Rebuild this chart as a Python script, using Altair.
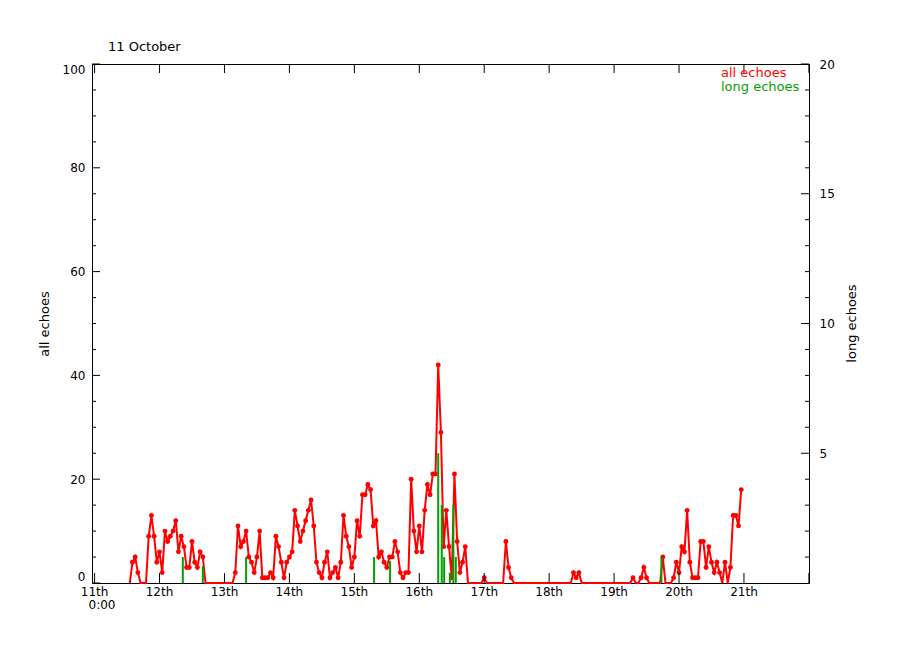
import altair as alt
import pandas as pd

# ---- data (hourly samples, hour 0 = 11 October 0:00) ----
day11 = [None, None, None, None, None, None, None, None, None, None, None, None, None,
         0, 4, 5, 2, 0, 0, 0, 9, 13, 9, 4]
day12 = [6, 2, 10, 8, 9, 10, 12, 6, 9, 7, 3, 3, 8, 4, 3, 6, 5, 0, 0, 0, 0, 0, 0, 0]
day13 = [0, 0, 0, 0, 2, 11, 7, 8, 10, 5, 4, 2, 5, 10, 1, 1, 1, 2, 1, 9, 7, 4, 1, 4]
day14 = [5, 6, 14, 11, 8, 10, 12, 14, 16, 11, 4, 2, 1, 4, 6, 1, 2, 3, 1, 4, 13, 9, 7, 3]
day15 = [5, 12, 9, 17, 17, 19, 18, 11, 12, 5, 6, 4, 3, 5, 5, 8, 6, 2, 1, 2, 2, 20, 10, 6]
day16 = [11, 6, 14, 19, 17, 21, 21, 42, 29, 7, 14, 7, 1, 21, 8, 2, 4, 7, 0, 0, 0, 0, 0, 0]
day17 = [1, 0, 0, 0, 0, 0, 0, 0, 8, 3, 1, 0, 0, 0, 0, 0, 0, 0, 0, 0, 0, 0, 0, 0]
day18 = [0, 0, 0, 0, 0, 0, 0, 0, 0, 2, 1, 2, 0, 0, 0, 0, 0, 0, 0, 0, 0, 0, 0, 0]
day19 = [0, 0, 0, 0, 0, 0, 0, 1, 0, 0, 1, 3, 1, 0, 0, 0, 0, 0, 5, 0, 0, 0, 1, 4]
day20 = [2, 7, 6, 14, 4, 1, 1, 1, 8, 8, 3, 7, 4, 2, 4, 2, 0, 4, 0, 3, 13, 13, 11, 18]

long_hours = [32.6, 40.0, 56.0, 103.3, 109.2, 127.0, 128.3, 129.2, 131.3, 132.6, 133.5, 209.5]
long_counts = [1, 0.65, 1, 1, 0.85, 5, 3, 1, 0.4, 3, 1, 1]

day_ticks = [0, 24, 48, 72, 96, 120, 144, 168, 192, 216, 240, 264]
day_label_values = [0, 24, 48, 72, 96, 120, 144, 168, 192, 216, 240]
day_labels = ["11th", "12th", "13th", "14th", "15th", "16th", "17th", "18th", "19th", "20th", "21th"]
left_major = [0, 20, 40, 60, 80, 100]
left_minor = [5, 10, 15, 25, 30, 35, 45, 50, 55, 65, 70, 75, 85, 90, 95]
right_major = [5, 10, 15, 20]
right_minor = [1, 2, 3, 4, 6, 7, 8, 9, 11, 12, 13, 14, 16, 17, 18, 19]

all_vals = day11 + day12 + day13 + day14 + day15 + day16 + day17 + day18 + day19 + day20
df_all = pd.DataFrame({"t": list(range(len(all_vals))), "v": all_vals}).dropna()
df_long = pd.DataFrame({"t": long_hours, "n": long_counts})

W, H = 717, 519
RED = "#ff0000"
GREEN = "#00a000"
FONT = "DejaVu Sans"
FS_NUM = 12
FS_TXT = 13

xscale = alt.Scale(domain=[-0.96, 264.04], nice=False, zero=False)
yscale = alt.Scale(domain=[0, 100], nice=False, zero=True)

yaxis_left = alt.Axis(values=left_major, orient="left", title="all echoes", labelPadding=7,
                      labelFontSize=FS_NUM, titleFontSize=FS_TXT, titlePadding=11, labelFlush=True)
yaxis_right = alt.Axis(values=[25, 50, 75, 100], orient="right", title=None,
                       labelExpr="format(datum.value/5, 'd')", labelPadding=10,
                       labelFontSize=FS_NUM, labelFlush=False)

base_all = alt.Chart(df_all)
red_line = base_all.mark_line(color=RED, strokeWidth=2).encode(
    x=alt.X("t:Q", scale=xscale, axis=None),
    y=alt.Y("v:Q", scale=yscale, axis=yaxis_left),
)
red_pts = base_all.transform_filter("datum.v > 0").mark_circle(color=RED, size=24, opacity=1).encode(
    x=alt.X("t:Q", scale=xscale, axis=None),
    y=alt.Y("v:Q", scale=yscale, axis=None),
)
green = alt.Chart(df_long).transform_calculate(yl="datum.n * 5").mark_rule(
    color=GREEN, strokeWidth=2).encode(
    x=alt.X("t:Q", scale=xscale, axis=None),
    y=alt.Y("yl:Q", scale=yscale, axis=yaxis_right),
    y2=alt.datum(0),
)

def ytick(values, factor, x0, x1):
    return alt.Chart(pd.DataFrame({"v": values})).transform_calculate(
        yy="datum.v * %s" % factor).mark_rule(color="black", strokeWidth=1).encode(
        y=alt.Y("yy:Q", scale=yscale, axis=None), x=alt.value(x0), x2=alt.value(x1))

lmaj = ytick(left_major, 1, 0, 8)
lmin = ytick(left_minor, 1, 0, 4)
rmaj = ytick(right_major, 5, W - 8, W)
rmin = ytick(right_minor, 5, W - 4, W)

df_days = pd.DataFrame({"t": day_ticks})
bticks = alt.Chart(df_days).mark_rule(color="black", strokeWidth=1).encode(
    x=alt.X("t:Q", scale=xscale, axis=None), y=alt.value(H), y2=alt.value(H - 10))
tticks = alt.Chart(df_days).mark_rule(color="black", strokeWidth=1).encode(
    x=alt.X("t:Q", scale=xscale, axis=None), y=alt.value(0), y2=alt.value(9))

xlabels = alt.Chart(pd.DataFrame({"t": day_label_values, "lab": day_labels})).mark_text(
    align="center", baseline="top", font=FONT, fontSize=FS_NUM, color="black").encode(
    x=alt.X("t:Q", scale=xscale, axis=None), y=alt.value(H + 4), text="lab:N")

def label(txt, x, y, color="black", align="left", angle=0, size=FS_TXT):
    return alt.Chart(pd.DataFrame({"s": [txt]})).mark_text(
        align=align, baseline="middle", font=FONT, fontSize=size, color=color,
        angle=angle).encode(text="s:N", x=alt.value(x), y=alt.value(y))

t_date = label("11 October", 16, -17)
t_all = label("all echoes", 629, 9, RED)
t_long = label("long echoes", 629, 23, GREEN)
t_zero = label("0:00", 10, 541, align="center", size=FS_NUM)
t_right = label("long echoes", W + 43, H / 2, align="center", angle=270)

chart = alt.layer(
    red_line, red_pts, green, lmaj, lmin, rmaj, rmin, bticks, tticks, xlabels,
    t_date, t_all, t_long, t_zero, t_right,
).resolve_axis(y="independent").properties(
    width=W, height=H,
    autosize=alt.AutoSizeParams(type="none"),
    padding={"left": 84, "top": 56, "right": 70, "bottom": 50},
    background="white",
).configure_view(stroke="black", strokeWidth=1).configure_axis(
    grid=False, domain=False, ticks=False, labelColor="black", titleColor="black",
    labelFont=FONT, titleFont=FONT, titleFontWeight="normal",
)

chart.save("out.html", embed_options={"renderer": "svg", "actions": False})
